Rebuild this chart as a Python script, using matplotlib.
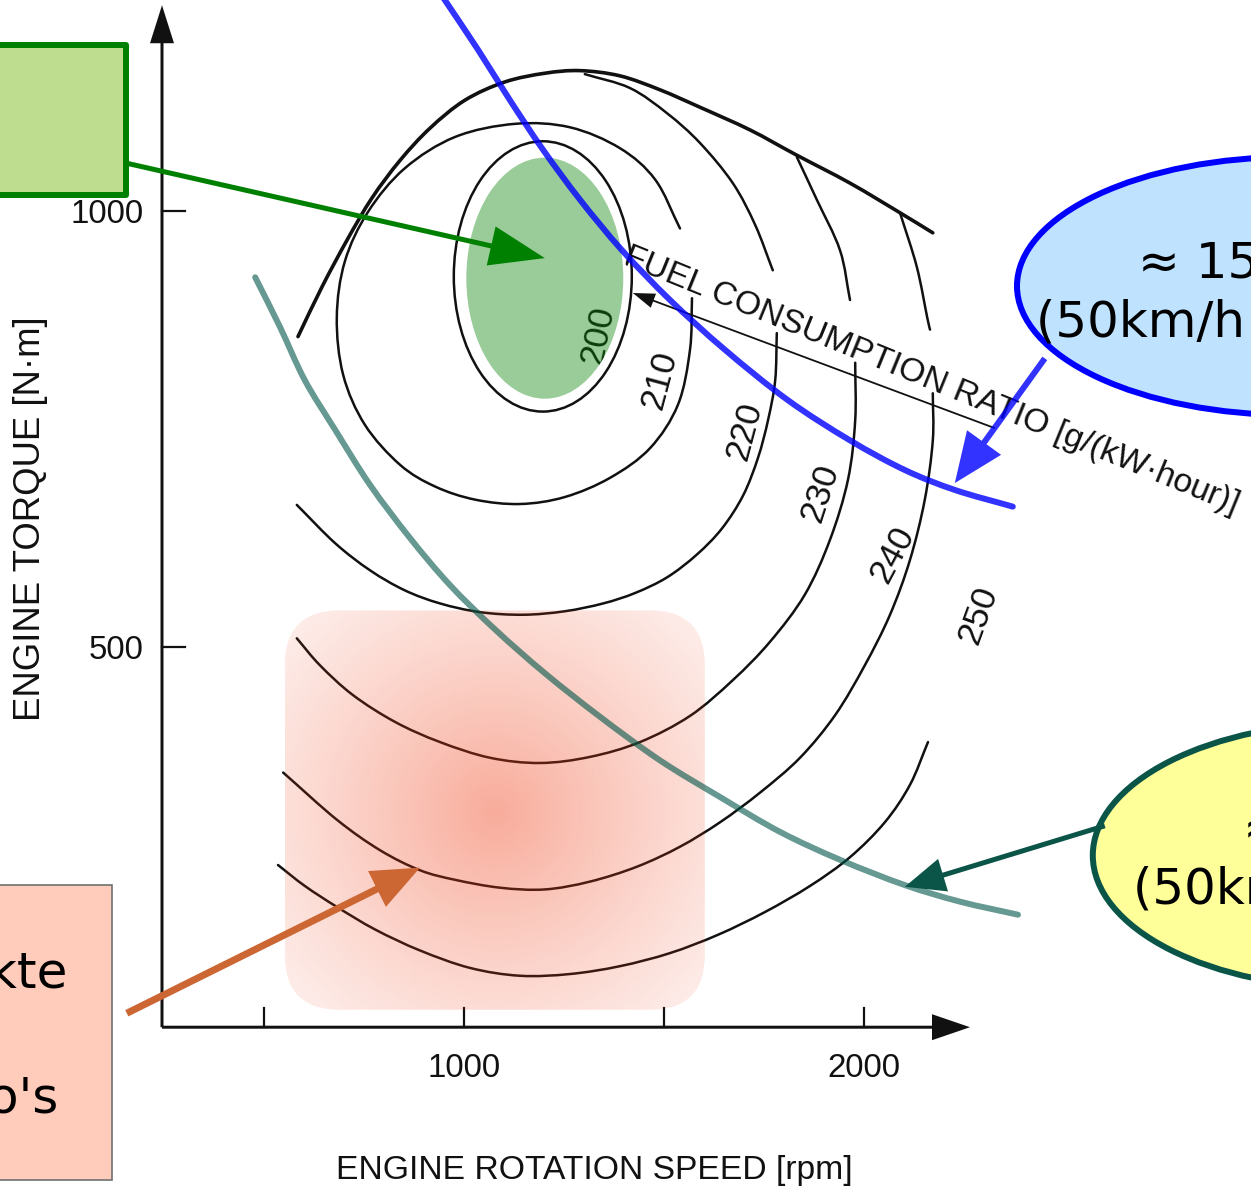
import numpy as np
import matplotlib
matplotlib.use("Agg")
import matplotlib.pyplot as plt
from matplotlib import font_manager
from matplotlib.path import Path
from matplotlib.patches import (Ellipse, Rectangle, FancyBboxPatch,
                                FancyArrowPatch, PathPatch)

nan = np.nan

# ---------------- engine map data: speed [rpm], torque [N·m] ----------------
full_load_rpm = [585, 645, 708, 770, 840, 915, 1002, 1102, 1202, 1290, 1390,
                 1490, 1590, 1715, 1828, 1965, 2090, 2172]
full_load_nm = [856, 913, 967, 1015, 1058, 1095, 1127, 1148, 1158, 1161, 1155,
                1139, 1119, 1093, 1065, 1032, 998, 975]

# specific fuel consumption lines [g/kWh]; NaN = break in the line
bsfc200_center = (1197, 925)
bsfc200_size = (445, 310)

bsfc210_rpm = [1570, 1565, 1535, 1465, 1365, 1252, 1140, 1028, 928, 840, 752,
               698, 682, 702, 760, 852, 978, 1128, 1265, 1390, 1478, 1540]
bsfc210_nm = [900, 841, 778, 728, 694, 672, 664, 669, 684, 709, 755,
              812, 878, 942, 999, 1049, 1085, 1100, 1096, 1072, 1036, 980]

bsfc220_rpm = [1302, 1415, 1508, 1590, 1672, 1728, 1772, nan,
               1782, 1778, 1760, 1735, 1698, 1645, 1582, 1508, 1428, 1348,
               1252, 1148, 1040, 940, 852, 765, 678, 582]
bsfc220_nm = [1157, 1141, 1112, 1078, 1032, 984, 932, nan,
              860, 806, 760, 717, 674, 636, 606, 580, 562, 550,
              541, 537, 540, 550, 565, 588, 619, 663]

bsfc230_rpm = [1832, 1882, 1940, 1965, nan, 1978, 1978, 1960, 1915, 1852,
               1765, 1672, 1565, 1440, 1315, 1190, 1065, 940, 828, 722, 640,
               582]
bsfc230_nm = [1062, 1013, 955, 898, nan, 826, 760, 692, 623, 560,
              506, 462, 421, 391, 374, 367, 373, 391, 414, 445, 479,
              510]

bsfc240_rpm = [2090, 2132, 2158, 2165, nan, 2172, 2172, 2152, 2115, 2065,
               2002, 1928, 1840, 1740, 1640, 1540, 1432, 1315, 1202, 1090,
               978, 890, 790, 682, 548]
bsfc240_nm = [998, 936, 878, 864, nan, 791, 737, 669, 600, 537,
              479, 422, 373, 333, 299, 271, 248, 231, 222, 224,
              233, 244, 267, 302, 356]

bsfc250_rpm = [2160, 2115, 2052, 1965, 1865, 1752, 1635, 1515, 1390, 1265,
               1140, 1015, 890, 778, 682, 602, 535]
bsfc250_nm = [391, 342, 299, 259, 226, 196, 170, 149, 134, 125,
              123, 132, 152, 176, 202, 226, 250]

bsfc_levels = [200, 210, 220, 230, 240, 250]
bsfc_label_rpm = [1335, 1490, 1702, 1890, 2072, 2285]
bsfc_label_nm = [858, 806, 747, 677, 606, 537]

# constant road-load power lines
power_high_rpm = [932, 952, 1035, 1115, 1198, 1290, 1395, 1515, 1652, 1810,
                  1965, 2102, 2228, 2372]
power_high_nm = [1256, 1242, 1185, 1127, 1070, 1013, 955, 898, 841, 783,
                 737, 703, 680, 661]
power_low_rpm = [478, 540, 602, 678, 765, 865, 965, 1078, 1202, 1340, 1490,
                 1640, 1790, 1940, 2102, 2240, 2385]
power_low_nm = [924, 867, 806, 749, 686, 625, 571, 520, 470, 420, 370,
                328, 288, 256, 227, 208, 193]

# best-efficiency island and typical operating zone
best_zone_center = (1202, 923)
best_zone_size = (400, 280)
operating_zone_rpm = (552, 1602)
operating_zone_nm = (84, 542)
operating_zone_peak = (1077, 311)

x_ticks = [500, 1000, 1500, 2000]
x_ticklabels = ["", "1000", "", "2000"]
y_ticks = [500, 1000]
y_ticklabels = ["500", "1000"]
axis_origin = (245, 64)
axis_end = (2265, 1236)

# ---------------------------------------------------------------------------
PX_X = 2.5       # rpm per pixel
PX_Y = 1.1468    # N·m per pixel
PT = 72 / 100    # points per pixel


def pick_family():
    for fam in ("Liberation Sans Narrow", "Arial Narrow"):
        try:
            font_manager.findfont(font_manager.FontProperties(family=fam),
                                  fallback_to_default=False)
            return fam, 1.0
        except ValueError:
            pass
    return "Liberation Sans", 0.82


SCAN, SC = pick_family()


def spline_path(xs, ys):
    """Smooth Catmull-Rom curve through the given points, as Bezier path."""
    P = np.column_stack([xs, ys]).astype(float)
    ext = np.vstack([2 * P[0] - P[1], P, 2 * P[-1] - P[-2]])
    verts = [P[0]]
    codes = [Path.MOVETO]
    for i in range(len(P) - 1):
        p0, p1, p2, p3 = ext[i], ext[i + 1], ext[i + 2], ext[i + 3]
        verts += [p1 + (p2 - p0) / 6, p2 - (p3 - p1) / 6, p2]
        codes += [Path.CURVE4] * 3
    return Path(verts, codes)


def draw_curve(ax, xs, ys, **kw):
    xs = np.asarray(xs, float)
    ys = np.asarray(ys, float)
    breaks = np.where(np.isnan(xs))[0]
    start = 0
    for b in list(breaks) + [len(xs)]:
        seg_x, seg_y = xs[start:b], ys[start:b]
        if len(seg_x) >= 2:
            ax.add_patch(PathPatch(spline_path(seg_x, seg_y), fill=False,
                                   capstyle="round", joinstyle="round", **kw))
        start = b + 1


def arrow(ax, p0, p1, color, tail, head_len, head_w, alpha=1.0, z=6):
    style = (f"simple,tail_width={tail * PT},head_width={head_w * PT},"
             f"head_length={head_len * PT}")
    ax.add_patch(FancyArrowPatch(p0, p1, arrowstyle=style, mutation_scale=1,
                                 color=color, lw=0, alpha=alpha,
                                 shrinkA=0, shrinkB=0, zorder=z))


fig = plt.figure(figsize=(12.51, 11.96), dpi=100)
ax = fig.add_axes([0, 0, 1, 1])
ax.axis("off")

ink = "#111111"

# ---- axes with arrow heads ----
arrow(ax, axis_origin, (axis_origin[0], axis_end[1]), ink, 3, 38, 24, z=2)
arrow(ax, axis_origin, (axis_end[0], axis_origin[1]), ink, 3, 38, 26, z=2)
for t, lab in zip(x_ticks, x_ticklabels):
    ax.plot([t, t], [axis_origin[1], axis_origin[1] + 22], color=ink,
            lw=1.6, zorder=2)
    if lab:
        ax.text(t, 17, lab, ha="center", va="center", family=SCAN,
                fontsize=29 * SC, color=ink)
for t, lab in zip(y_ticks, y_ticklabels):
    ax.plot([axis_origin[0], axis_origin[0] + 57], [t, t], color=ink,
            lw=1.6, zorder=2)
    ax.text(200, t - 4, lab, ha="right", va="center", family=SCAN,
            fontsize=29 * SC, color=ink)

ax.text(-85, 647, "ENGINE TORQUE [N·m]", rotation=90, ha="center",
        va="center", family=SCAN, fontsize=32 * SC, color=ink)
ax.text(1325, -100, "ENGINE ROTATION SPEED [rpm]", ha="center", va="center",
        family=SCAN, fontsize=29.5 * SC, color=ink)

# ---- fuel consumption map ----
draw_curve(ax, full_load_rpm, full_load_nm, color=ink, lw=2.6, zorder=2)
for xs, ys in [(bsfc210_rpm, bsfc210_nm), (bsfc220_rpm, bsfc220_nm),
               (bsfc230_rpm, bsfc230_nm), (bsfc240_rpm, bsfc240_nm),
               (bsfc250_rpm, bsfc250_nm)]:
    draw_curve(ax, xs, ys, color=ink, lw=1.8, zorder=2)
ax.add_patch(Ellipse(bsfc200_center, *bsfc200_size, fill=False, ec=ink,
                     lw=1.8, zorder=2))

label_rot = [78, 75, 75, 72, 62, 70]
for lev, x, y, rot in zip(bsfc_levels, bsfc_label_rpm, bsfc_label_nm,
                          label_rot):
    ax.text(x, y, str(lev), rotation=rot, rotation_mode="anchor",
            ha="center", va="center", family=SCAN, fontsize=31 * SC,
            color=ink, zorder=2.5)

ax.text(1395, 940, "FUEL CONSUMPTION RATIO [g/(kW·hour)]", rotation=-22.2,
        rotation_mode="anchor", ha="left", va="baseline", family=SCAN,
        fontsize=29.5 * SC, color=ink, zorder=2.5)
arrow(ax, (2327, 751), (1422, 906), ink, 1.8, 22, 15, z=2.5)

# ---- best efficiency island ----
ax.add_patch(Ellipse(best_zone_center, *best_zone_size,
                     fc=(0, 0.5, 0, 0.4), ec="white", lw=2.2, zorder=3))

# ---- typical operating zone (radial shading) ----
zx0, zx1 = operating_zone_rpm
zy0, zy1 = operating_zone_nm
zone = FancyBboxPatch((zx0, zy0), zx1 - zx0, zy1 - zy0,
                      boxstyle="round,pad=0,rounding_size=137",
                      mutation_aspect=PX_Y / PX_X, fc="none", ec="none",
                      zorder=3)
ax.add_patch(zone)
gx = np.linspace(zx0, zx1, 420)
gy = np.linspace(zy0, zy1, 400)
GX, GY = np.meshgrid(gx, gy)
r = np.hypot((GX - operating_zone_peak[0]) / PX_X,
             (GY - operating_zone_peak[1]) / PX_Y)
alpha = 0.08 + 0.35 * np.clip(1 - r / 300, 0, 1) ** 1.2
rgba = np.zeros((len(gy), len(gx), 4))
rgba[..., 0], rgba[..., 1], rgba[..., 2] = 240 / 255, 60 / 255, 20 / 255
rgba[..., 3] = alpha
im = ax.imshow(rgba, extent=(zx0, zx1, zy0, zy1), origin="lower",
               aspect="auto", interpolation="bilinear", zorder=3)
im.set_clip_path(zone)

# ---- power demand lines ----
draw_curve(ax, power_high_rpm, power_high_nm, color="#0000ff", alpha=0.8,
           lw=6 * PT, zorder=4)
draw_curve(ax, power_low_rpm, power_low_nm, color="#005548", alpha=0.6,
           lw=6 * PT, zorder=4)

# ---- callouts ----
ax.add_patch(Rectangle((-185, 1018), 340, 172, fc="#bfdd8f", ec="#008000",
                       lw=6 * PT, joinstyle="round", zorder=5))
arrow(ax, (155, 1055), (1202, 946), "#008000", 5, 55, 40, z=5)

ax.add_patch(Rectangle((-185, -111), 305, 338, fc="#ffccbb", ec="#707070",
                       lw=1.2, zorder=5))
ax.text(10, 109, "Betriebspunkte", ha="right", va="baseline",
        family="DejaVu Sans", fontsize=36, zorder=6)
ax.text(-15, -34, "Turbo's", ha="right", va="baseline",
        family="DejaVu Sans", fontsize=36, zorder=6)
arrow(ax, (157, 80), (890, 247), "#cc6633", 7, 48, 40, z=6)

ax.add_patch(Ellipse((3070, 914), 1375, 296, fc="#bfe3ff", ec="#0000ff",
                     lw=6 * PT, zorder=5))
ax.text(2685, 924, "≈ 150 kW", ha="left", va="baseline",
        family="DejaVu Sans", fontsize=36, zorder=6)
ax.text(2430, 856, "(50km/h bergauf)", ha="left", va="baseline",
        family="DejaVu Sans", fontsize=36, zorder=6)
arrow(ax, (2452, 831), (2227, 688), "#0000ff", 6, 50, 42, alpha=0.8, z=5)

ax.add_patch(Ellipse((3227, 261), 1310, 305, fc="#ffff99", ec="#0b5548",
                     lw=6 * PT, zorder=5))
ax.text(2947, 275, "≈ 50 kW", ha="left", va="baseline",
        family="DejaVu Sans", fontsize=36, zorder=6)
ax.text(2672, 206, "(50km/h eben)", ha="left", va="baseline",
        family="DejaVu Sans", fontsize=36, zorder=6)
arrow(ax, (2602, 295), (2102, 225), "#0b5548", 5, 40, 34, z=6)

ax.set_xlim(-160, -160 + 1251 * PX_X)
ax.set_ylim(1242 - 1196 * PX_Y, 1242)
ax.set_aspect("auto")

fig.savefig("out.png", dpi=100)
